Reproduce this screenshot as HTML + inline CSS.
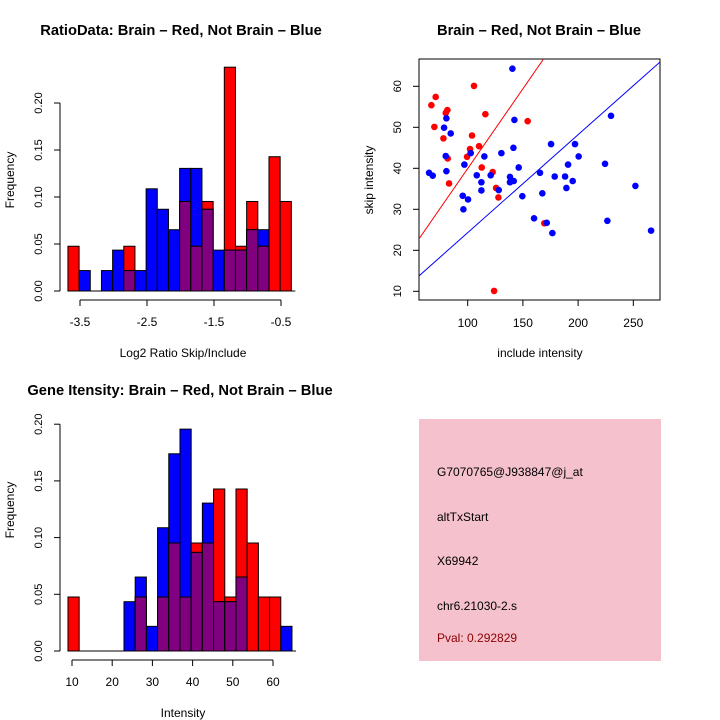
<!DOCTYPE html>
<html><head><meta charset="utf-8"><style>
body{margin:0;background:#fff}
svg{display:block;font-family:"Liberation Sans",Arial,sans-serif}
</style></head><body>
<svg id="s" width="720" height="720" viewBox="0 0 720 720">
<rect width="720" height="720" fill="#fff"/>
<text x="181" y="35" text-anchor="middle" font-size="14.7" font-weight="bold">RatioData: Brain – Red, Not Brain – Blue</text>
<text x="539" y="35" text-anchor="middle" font-size="14.7" font-weight="bold">Brain – Red, Not Brain – Blue</text>
<text x="180" y="395" text-anchor="middle" font-size="14.7" font-weight="bold">Gene Itensity: Brain – Red, Not Brain – Blue</text>
<g id="p1"></g>
<g id="p2"></g>
<g id="p3"></g>
<g>
<rect x="419" y="419" width="242" height="242" fill="#f4c1cc"/>
<text x="437" y="476" font-size="12">G7070765@J938847@j_at</text>
<text x="437" y="521" font-size="12">altTxStart</text>
<text x="437" y="565" font-size="12">X69942</text>
<text x="437" y="610" font-size="12">chr6.21030-2.s</text>
<text x="437" y="642" font-size="12" fill="#8b0000">Pval: 0.292829</text>
</g>
</svg>
<script>
// Ratio histogram data (counts per bin; red n=21, blue n=46)
const ratioRed  = [1,0,0,0,0,1,0,0,0,0,2,1,2,0,5,1,2,1,3,2];
const ratioBlue = [0,1,0,1,2,1,1,5,4,3,6,6,4,2,2,2,3,3,0,0];
const ratioStart = -3.68, ratioBinW = 0.1667;
const ratioTicksX = [-3.5,-2.5,-1.5,-0.5];
const ratioTicksXLab = ["-3.5","-2.5","-1.5","-0.5"];
const ratioTicksY = [0,0.05,0.10,0.15,0.20];
// Intensity histogram data
const intRed  = [1,0,0,0,0,0,1,0,1,2,1,2,2,3,1,3,2,1,1,0];
const intBlue = [0,0,0,0,0,2,3,1,5,8,9,4,6,2,2,3,0,0,0,1];
const intStart = 9.0, intBinW = 2.786;
const intTicksX = [10,20,30,40,50,60];
const intTicksY = [0,0.05,0.10,0.15,0.20];
// Scatter data
const redInc  = [67.1,71.0,69.8,78.0,80.1,81.6,81.9,83.1,105.7,116.0,103.9,110.3,102.1,99.4,112.7,122.6,125.7,127.8,154.3,169.4,123.9];
const redSkip = [55.4,57.4,50.1,47.3,53.5,54.2,42.4,36.3,60.1,53.2,48.0,45.4,44.7,42.8,40.2,39.1,35.2,32.9,51.5,26.6,10.1];
const blueInc  = [140.5,65.0,68.3,80.7,78.6,84.6,80.1,80.7,97.0,102.7,115.1,130.5,141.4,142.3,108.2,112.4,112.4,120.8,128.1,146.2,138.3,138.3,141.7,95.5,100.3,96.1,149.5,165.5,167.6,175.5,178.8,160.1,171.6,176.7,190.9,197.2,200.5,188.2,195.1,189.4,224.4,229.8,226.5,251.9,266.1];
const blueSkip = [64.3,38.9,38.2,52.2,49.9,48.5,43.0,39.3,40.9,43.7,42.9,43.7,45.0,51.8,38.3,36.6,34.6,38.3,34.7,40.2,37.9,36.6,36.9,33.3,32.4,30.0,33.2,38.9,33.9,45.9,38.0,27.8,26.7,24.2,40.9,45.9,42.9,38.0,36.9,35.2,41.1,52.8,27.2,35.7,24.8];
const redFit = [1.04,0.389];   // intercept, slope
const blueFit = [0.4,0.239];
const scTicksX = [100,150,200,250];
const scTicksY = [10,20,30,40,50,60];

const NS="http://www.w3.org/2000/svg";
function mk(parent,tag,attrs,txt){const e=document.createElementNS(NS,tag);for(const k in attrs)e.setAttribute(k,attrs[k]);if(txt!==undefined)e.textContent=txt;parent.appendChild(e);return e;}

function hist(g,red,blue,nR,nB,start,w,sx,sy,ticksX,ticksXLab,ticksY,baseY,axisY,xlab,xlabY,ylabY){
  for(let i=0;i<red.length;i++){
    const x0=sx(start+i*w),x1=sx(start+(i+1)*w);
    const fr=red[i]/nR, fb=blue[i]/nB;
    const bars=[];
    if(fr>0) bars.push(['#ff0000',fr,'red']);
    if(fb>0) bars.push(['#0000ff',fb,'blue']);
    bars.sort((a,b)=>b[1]-a[1]);
    bars.forEach(b=>{
      const r=mk(g,'rect',{x:x0,y:sy(b[1]),width:x1-x0,height:sy(0)-sy(b[1]),fill:b[0],stroke:'#000','stroke-width':1});
      
      
    });
    if(fr>0&&fb>0){
      const m=Math.min(fr,fb);
      const r=mk(g,'rect',{x:x0,y:sy(m),width:x1-x0,height:sy(0)-sy(m),fill:'#800080',stroke:'#000','stroke-width':1});
      
      
    }
  }
  mk(g,'line',{x1:sx(start),x2:sx(start+red.length*w)+4,y1:sy(0),y2:sy(0),stroke:'#000'});
  mk(g,'line',{x1:sx(ticksX[0]),x2:sx(ticksX[ticksX.length-1]),y1:axisY,y2:axisY,stroke:'#000'});
  ticksX.forEach((t,i)=>{mk(g,'line',{x1:sx(t),x2:sx(t),y1:axisY,y2:axisY+6,stroke:'#000'});
    const l=mk(g,'text',{x:sx(t),y:axisY+26,'text-anchor':'middle','font-size':12},ticksXLab[i]);
    });
  mk(g,'line',{x1:60,x2:60,y1:sy(ticksY[0]),y2:sy(ticksY[ticksY.length-1]),stroke:'#000'});
  ticksY.forEach(t=>{mk(g,'line',{x1:60,x2:54,y1:sy(t),y2:sy(t),stroke:'#000'});
    const l=mk(g,'text',{x:42,y:sy(t),'text-anchor':'middle','font-size':11,transform:`rotate(-90 42 ${sy(t)})`},t.toFixed(2));
    });
  const xl=mk(g,'text',{x:183,y:xlabY,'text-anchor':'middle','font-size':12},xlab);
  
  const yl=mk(g,'text',{x:14,y:ylabY,'text-anchor':'middle','font-size':12,transform:`rotate(-90 14 ${ylabY})`},'Frequency');
  
}

const p1=document.getElementById('p1');
hist(p1,ratioRed,ratioBlue,21,46,ratioStart,ratioBinW,v=>80+(v+3.5)*67,v=>291-v*940,ratioTicksX,ratioTicksXLab,ratioTicksY,291,300,'Log2 Ratio Skip/Include',357,180);
const p3=document.getElementById('p3');
hist(p3,intRed,intBlue,21,46,intStart,intBinW,v=>72+(v-10)*4.02,v=>651-v*1134,intTicksX,intTicksX.map(String),intTicksY,651,660,'Intensity',717,510);

// scatter
const p2=document.getElementById('p2');
const sx=v=>467.7+(v-100)*1.104, sy=v=>86.3+(60-v)*4.1;
const cp=mk(p2,'clipPath',{id:'cp'});mk(cp,'rect',{x:419,y:59,width:241,height:241});
const box=mk(p2,'rect',{x:419,y:59,width:241,height:241,fill:'none',stroke:'#000'});

scTicksX.forEach(t=>{mk(p2,'line',{x1:sx(t),x2:sx(t),y1:300,y2:306,stroke:'#000'});
  const l=mk(p2,'text',{x:sx(t),y:327,'text-anchor':'middle','font-size':12},String(t));
  });
scTicksY.forEach(t=>{mk(p2,'line',{x1:419,x2:413,y1:sy(t),y2:sy(t),stroke:'#000'});
  const l=mk(p2,'text',{x:401,y:sy(t),'text-anchor':'middle','font-size':11,transform:`rotate(-90 401 ${sy(t)})`},String(t));
  });
const xt=mk(p2,'text',{x:540,y:357,'text-anchor':'middle','font-size':12},'include intensity');

const yt=mk(p2,'text',{x:373,y:180,'text-anchor':'middle','font-size':12,transform:'rotate(-90 373 180)'},'skip intensity');

const lg=mk(p2,'g',{'clip-path':'url(#cp)'});
[[redFit,'#ff0000','red'],[blueFit,'#0000ff','blue']].forEach(f=>{
  const l=mk(lg,'line',{x1:sx(40),y1:sy(f[0][0]+f[0][1]*40),x2:sx(300),y2:sy(f[0][0]+f[0][1]*300),stroke:f[1],'stroke-width':1});
  
});
redInc.forEach((v,i)=>{const c=mk(p2,'circle',{cx:sx(v),cy:sy(redSkip[i]),r:3.3,fill:'#ff0000'});
  });
blueInc.forEach((v,i)=>{const c=mk(p2,'circle',{cx:sx(v),cy:sy(blueSkip[i]),r:3.3,fill:'#0000ff'});
  });
</script>
</body></html>
